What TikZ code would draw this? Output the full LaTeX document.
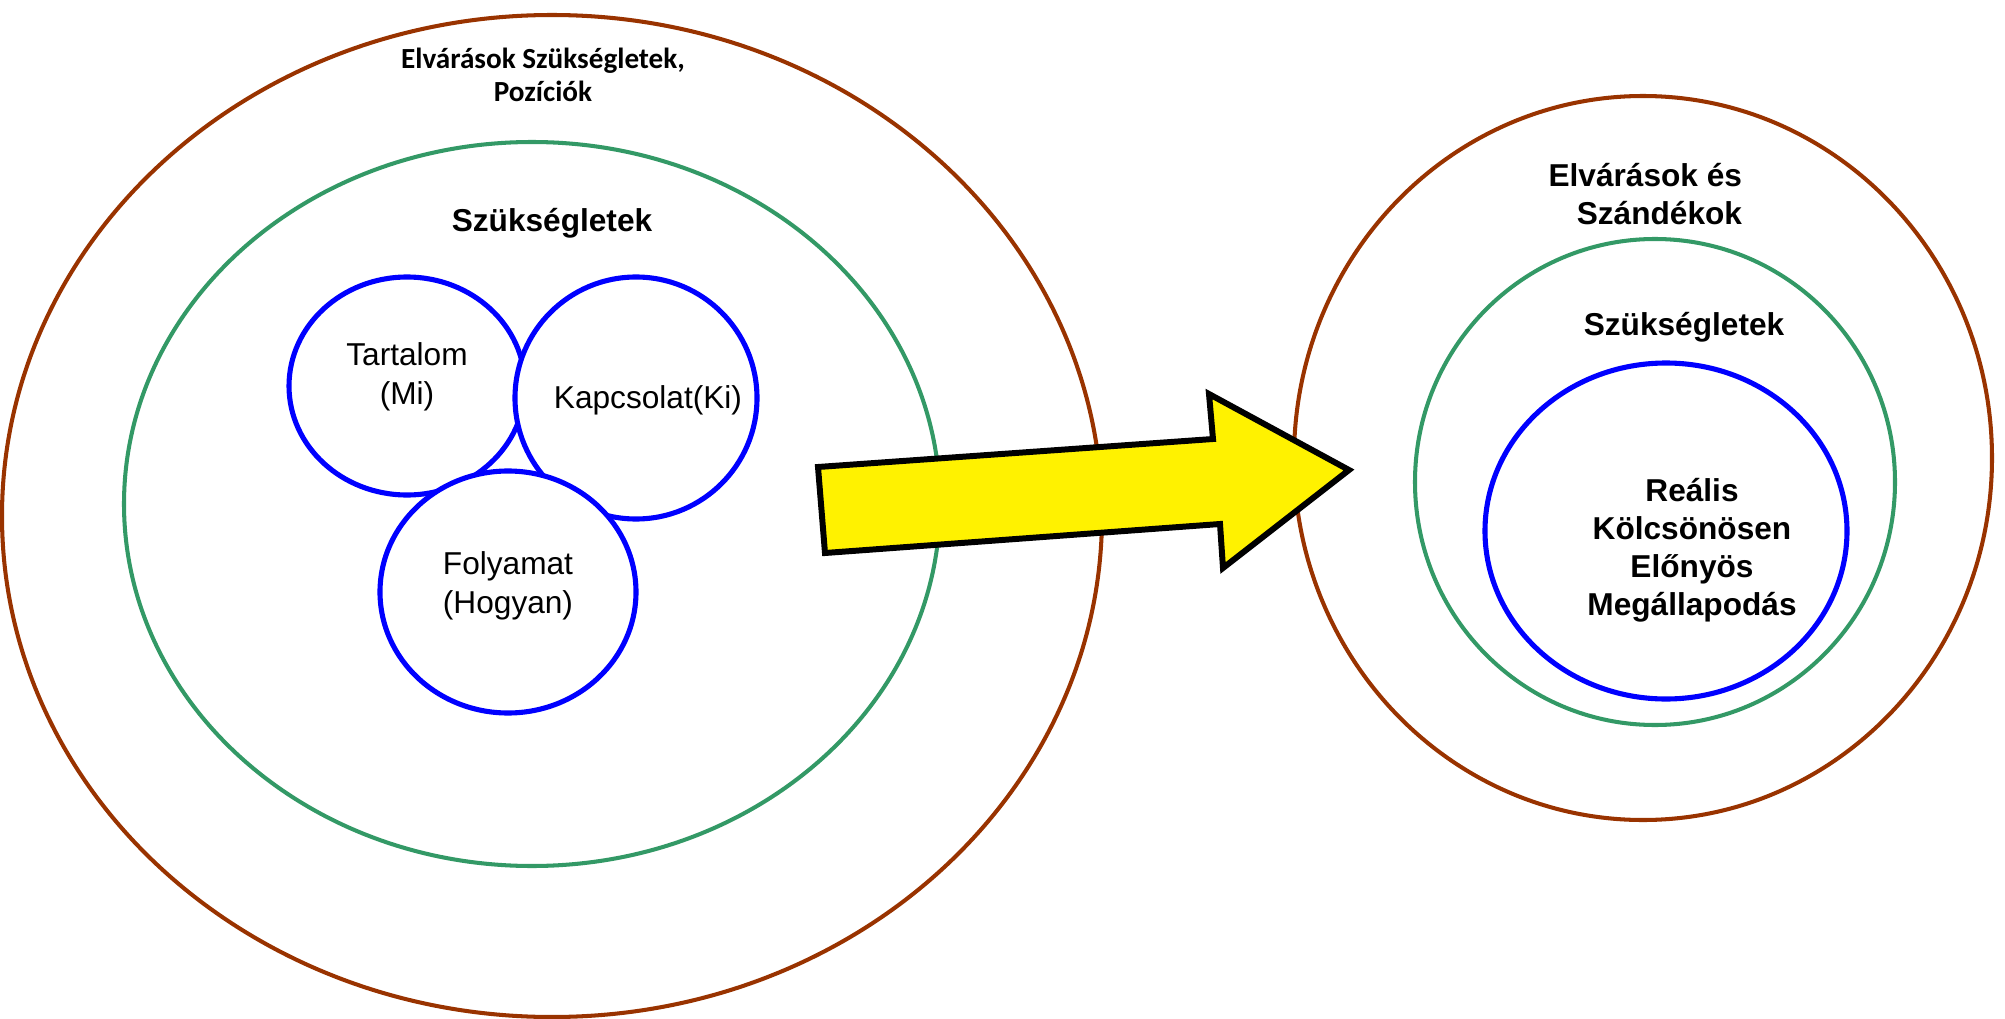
\documentclass[tikz,border=0pt]{standalone}
\usepackage{fontspec}
\setmainfont{Liberation Sans}
\newfontfamily\calibri{Carlito}
\usepackage{tikz}
\usetikzlibrary{shapes,arrows.meta,positioning,calc}

\definecolor{outerbrown}{RGB}{153,51,0}
\definecolor{needgreen}{RGB}{51,153,102}

\begin{document}
\begin{tikzpicture}
[
  every node/.style={inner sep=0pt, outer sep=0pt, align=center},
  ring/.style={draw, ellipse, line width=1.15pt},
  brownring/.style={ring, draw=outerbrown},
  greenring/.style={ring, draw=needgreen},
  bluering/.style={ring, draw=blue, line width=1.45pt, fill=white},
  lbl/.style={font=\fontsize{9}{11.1}\selectfont},
  blbl/.style={font=\fontsize{9}{10.8}\selectfont\bfseries}
]
\useasboundingbox (0,0) rectangle (20.05,-10.19);

% bal oldal
\node[brownring, minimum width=11.00cm, minimum height=10.02cm] (bigL) at (5.52,-5.16) {};
\node[greenring, minimum width=8.16cm, minimum height=7.24cm] (needL) at (5.32,-5.04) {};
\node[bluering, minimum width=2.36cm, minimum height=2.18cm] (mi) at (4.07,-3.86) {};
\node[bluering, minimum width=2.42cm, minimum height=2.42cm] (ki) at (6.36,-3.98) {};
\node[bluering, minimum width=2.56cm, minimum height=2.42cm] (hogyan) at (5.08,-5.92) {};

\node[font=\fontsize{8.3}{9.4}\selectfont\calibri\bfseries] (expL) at (5.43,-0.75) {Elvárások Szükségletek,\\ Pozíciók};
\node[blbl] (needLtxt) at (5.52,-2.23) {Szükségletek};
\node[lbl] (mitxt) at (4.07,-3.77) {Tartalom\\ (Mi)};
\node[lbl] (kitxt) at (6.48,-4.00) {Kapcsolat(Ki)};
\node[lbl] (hogyantxt) at (5.08,-5.86) {Folyamat\\ (Hogyan)};

% jobb oldal
\node[brownring, minimum width=6.98cm, minimum height=7.24cm] (bigR) at (16.43,-4.58) {};
\node[greenring, minimum width=4.80cm, minimum height=4.86cm] (needR) at (16.55,-4.82) {};
\node[bluering, minimum width=3.62cm, minimum height=3.36cm] (deal) at (16.66,-5.31) {};

\node[blbl, align=right, anchor=east] (expR) at (17.42,-1.94) {Elvárások és\\ Szándékok};
\node[blbl] (needRtxt) at (16.84,-3.27) {Szükségletek};
\node[blbl] (dealtxt) at (16.92,-5.50) {Reális\\ Kölcsönösen\\ Előnyös\\ Megállapodás};

% nyil
\draw[line width=1.7pt, fill=yellow, line join=miter]
  (8.18,-4.67) -- (12.13,-4.39) -- (12.09,-3.94) -- (13.49,-4.70)
  -- (12.23,-5.68) -- (12.20,-5.24) -- (8.25,-5.53) -- cycle;
\end{tikzpicture}
\end{document}
